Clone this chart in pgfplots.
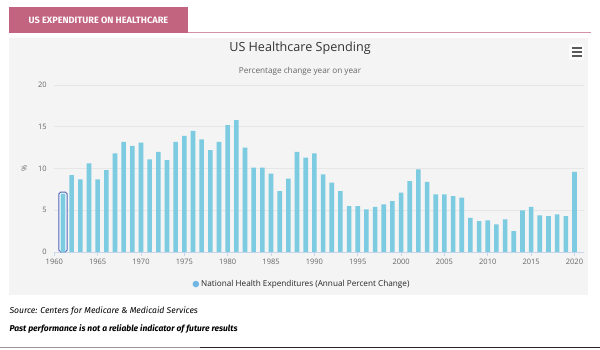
\documentclass[border=0pt]{standalone}
\usepackage{pgfplots}
\pgfplotsset{compat=1.18}
\usepackage{pgfplotstable}
\usepackage{fontspec}
\setmainfont{Open Sans}
\newfontfamily\footfont{Fira Sans}
\definecolor{barblue}{HTML}{7CCBE0}
\definecolor{panel}{HTML}{F4F4F4}
\definecolor{pinkhdr}{HTML}{C2637F}
\definecolor{gridc}{HTML}{E6E6E6}
\definecolor{axisc}{HTML}{CCD6EB}
\definecolor{txtgray}{HTML}{666666}
\definecolor{hl}{HTML}{4F63B5}

\pgfplotstableread{
year val
1961 7.0
1962 9.2
1963 8.7
1964 10.6
1965 8.7
1966 9.8
1967 11.8
1968 13.2
1969 12.7
1970 13.1
1971 11.1
1972 12.0
1973 11.0
1974 13.2
1975 13.9
1976 14.5
1977 13.5
1978 12.2
1979 13.2
1980 15.2
1981 15.8
1982 12.5
1983 10.1
1984 10.1
1985 9.4
1986 7.3
1987 8.8
1988 12.0
1989 11.3
1990 11.8
1991 9.3
1992 8.3
1993 7.3
1994 5.5
1995 5.5
1996 5.1
1997 5.4
1998 5.7
1999 6.1
2000 7.1
2001 8.5
2002 9.9
2003 8.4
2004 6.9
2005 6.9
2006 6.7
2007 6.5
2008 4.1
2009 3.7
2010 3.8
2011 3.3
2012 3.9
2013 2.5
2014 5.0
2015 5.4
2016 4.4
2017 4.3
2018 4.5
2019 4.3
2020 9.6
}\datatable

\begin{document}
\begin{tikzpicture}[x=1pt,y=1pt]
\useasboundingbox (0,0) rectangle (600,349);
\fill[panel] (9.3,54) rectangle (588,310.7);
\fill[pinkhdr] (9.3,316.3) rectangle (188,341.7);
\draw[pinkhdr!70, line width=1pt] (188,316.8) -- (591,316.8);
\node[white, font=\footfont\bfseries\fontsize{9.2}{10}\selectfont] at (98.5,328.3) {US EXPENDITURE ON HEALTHCARE};
\node[font=\fontsize{12.6}{15}\selectfont, text=black!80] at (300,301) {US Healthcare Spending};
\node[font=\fontsize{8.2}{9}\selectfont, text=txtgray] at (300,278) {Percentage change year on year};
\fill[white!60!panel] (569,289) rectangle (584,304.5);
\foreach \yy in {301,297,293} \draw[black!65, line width=1.4pt] (571.5,\yy) -- (582,\yy);
\node[anchor=west, font=\footfont\itshape\fontsize{8.6}{10}\selectfont, inner sep=0pt] at (9.3,38) {Source: Centers for Medicare \& Medicaid Services};
\node[anchor=west, font=\footfont\bfseries\itshape\fontsize{8.5}{10}\selectfont, inner sep=0pt] at (9.3,20) {Past performance is not a reliable indicator of future results};
\draw[black!40, line width=1.5pt] (0,1.5) -- (200,1.5);
\draw[black!85, line width=1.5pt] (200,1.5) -- (600,1.5);
\begin{axis}[
  at={(54.3pt,97pt)}, anchor=south west,
  scale only axis, width=529.7pt, height=167pt,
  xmin=1960, xmax=2021.1, ymin=0, ymax=20,
  axis lines*=left,
  y axis line style={draw=none},
  x axis line style={draw=axisc, line width=0.8pt},
  ytick style={draw=none},
  xtick style={draw=axisc, line width=0.8pt},
  tick align=outside, major tick length=4pt,
  ymajorgrids, grid style={gridc, line width=0.6pt},
  xtick={1960,1965,...,2020}, ytick={0,5,...,20},
  ticklabel style={font=\fontsize{7.5}{8}\selectfont, text=txtgray},
  /pgf/number format/assume math mode=true,
  /pgf/number format/1000 sep={},
  ylabel={\%},
  ylabel style={at={(axis description cs:-0.0566,0.5)}, anchor=center, rotate=0, font=\fontsize{7.5}{8}\selectfont, text=txtgray},
  legend style={at={(0.4676,-0.192)}, anchor=center, draw=none, fill=none, font=\fontsize{8.2}{9}\selectfont, text=black!85},
  legend image code/.code={\fill[barblue!90!blue] (0.3em,0) circle (3.3pt);},
]
\addplot[ybar, bar width=8.2pt, bar shift=0pt, fill=white, draw=hl, line width=0.9pt, rounded corners=1.8pt, forget plot] coordinates {(1961,7.17)};
\addplot[ybar, bar width=4.6pt, bar shift=0pt, fill=barblue, draw=none] table[x=year,y=val]{\datatable};
\addlegendentry{National Health Expenditures (Annual Percent Change)}
\end{axis}
\end{tikzpicture}
\end{document}
